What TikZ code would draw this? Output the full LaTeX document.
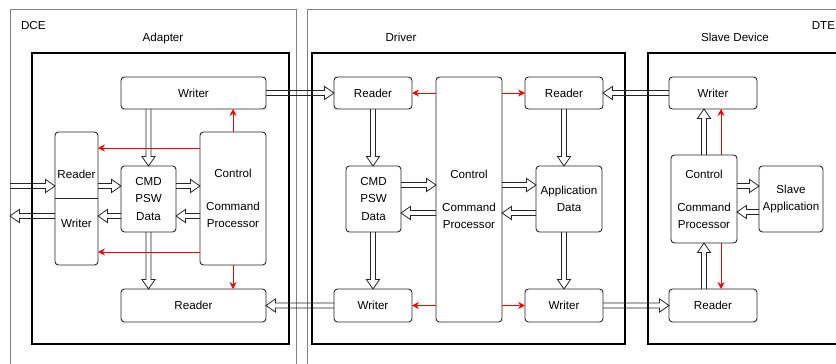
\documentclass[tikz,border=0pt]{standalone}
\usepackage{fontspec}
\setmainfont{Liberation Sans}
\usetikzlibrary{calc,arrows.meta}

\begin{document}
\begin{tikzpicture}[x=1pt,y=-1pt,
  every node/.style={font=\fontsize{11.6}{16.8}\selectfont, inner sep=0pt, outer sep=0pt},
  outerbox/.style={draw=black!50, line width=0.8pt, anchor=north west},
  frame/.style={draw=black, line width=1.7pt, anchor=north west},
  unit/.style={draw=black!85, line width=0.9pt, rounded corners=3.5pt, align=center},
  caption/.style={text height=8.5pt, text depth=2.5pt},
  ctrl/.style={draw=red, line width=0.9pt, -{Stealth[length=7pt,width=7pt,inset=2.5pt]}},
  hollow/.style={draw=black!85, line width=0.8pt, line join=miter, to path={
    let \p1=(\tikztostart), \p2=(\tikztotarget), \p3=($(\p2)!9.5pt!(\p1)$) in
    ($(\p1)!2.5pt!90:(\p2)$) -- ($(\p3)!2.5pt!90:(\p2)$) -- ($(\p3)!6.6pt!90:(\p2)$) -- (\p2)
    -- ($(\p3)!6.6pt!-90:(\p2)$) -- ($(\p3)!2.5pt!-90:(\p2)$) -- ($(\p1)!2.5pt!-90:(\p2)$)}}
]
\clip (0,0) rectangle (836,364);

% equipment domains
\node[outerbox, minimum width=286pt, minimum height=420pt] (dce) at (10,9) {};
\node[outerbox, minimum width=600pt, minimum height=420pt] (dte) at (307,9) {};
\node[caption, anchor=west] (dcelbl) at (21,26) {DCE};
\node[caption, anchor=east] (dtelbl) at (835,26) {DTE};

% software modules
\node[frame, minimum width=257pt, minimum height=291pt] (adapter) at (32,53) {};
\node[frame, minimum width=313pt, minimum height=291pt] (driver) at (312,53) {};
\node[frame, minimum width=300pt, minimum height=291pt] (slave) at (648,53) {};
\node[caption] (adlbl) at (163,38) {Adapter};
\node[caption] (drlbl) at (401,38) {Driver};
\node[caption] (sllbl) at (735,38) {Slave Device};

% adapter blocks
\node[unit, minimum width=145pt, minimum height=32pt] (wA) at (193.5,93) {Writer};
\node[unit, minimum width=43pt, minimum height=133pt] (rwA) at (76.5,198.5) {};
\draw[draw=black!85, line width=0.9pt] (rwA.west) -- (rwA.east);
\node[caption] (rwAr) at (76.5,175) {Reader};
\node[caption] (rwAw) at (76.5,224) {Writer};
\node[unit, minimum width=55pt, minimum height=66pt, font=\fontsize{11.6}{17.3}\selectfont] (cmdA) at (148.5,199) {CMD\\PSW\\Data};
\node[unit, minimum width=66pt, minimum height=133pt] (ctlA) at (233,198.5) {Control\\[16.5pt]Command\\Processor};
\node[unit, minimum width=145pt, minimum height=33pt] (rA) at (193.5,305.5) {Reader};

% driver blocks
\node[unit, minimum width=78pt, minimum height=32pt] (rD) at (373,93) {Reader};
\node[unit, minimum width=55pt, minimum height=66pt, font=\fontsize{11.6}{17.3}\selectfont] (cmdD) at (373.5,199) {CMD\\PSW\\Data};
\node[unit, minimum width=66pt, minimum height=245pt] (ctlD) at (469,199.5) {Control\\[16.5pt]Command\\Processor};
\node[unit, minimum width=78pt, minimum height=32pt] (rD2) at (564,93) {Reader};
\node[unit, minimum width=66pt, minimum height=66pt] (appD) at (569,199) {Application\\Data};
\node[unit, minimum width=78pt, minimum height=33pt] (wD) at (373,305.5) {Writer};
\node[unit, minimum width=78pt, minimum height=33pt] (wD2) at (564,305.5) {Writer};

% slave device blocks
\node[unit, minimum width=88pt, minimum height=32pt] (wS) at (713,93) {Writer};
\node[unit, minimum width=66pt, minimum height=88pt] (ctlS) at (704,199) {Control\\[16.5pt]Command\\Processor};
\node[unit, minimum width=64pt, minimum height=66pt] (appS) at (791,199) {Slave\\Application};
\node[unit, minimum width=88pt, minimum height=33pt] (rS) at (713,305.5) {Reader};

% levels of the side-by-side links
\coordinate (yA1) at (0,186);
\coordinate (yA2) at (0,216);
\coordinate (yAr1) at (0,148);
\coordinate (yAr2) at (0,252);
\coordinate (yD1) at (0,185);
\coordinate (yD2) at (0,213);
\coordinate (yS1) at (0,186);
\coordinate (yS2) at (0,212);
\coordinate (xS) at (721,0);
\coordinate (inA) at (10,186);
\coordinate (outA) at (10,216);

% data paths, adapter
\draw[hollow] (wA.south -| cmdA.north) to (cmdA.north);
\draw[hollow] (cmdA.south) to (rA.north -| cmdA.south);
\draw[hollow] (rwA.east |- yA1) to (cmdA.west |- yA1);
\draw[hollow] (cmdA.west |- yA2) to (rwA.east |- yA2);
\draw[hollow] (cmdA.east |- yA1) to (ctlA.west |- yA1);
\draw[hollow] (ctlA.west |- yA2) to (cmdA.east |- yA2);
\draw[hollow] (inA) to (rwA.west |- inA);
\draw[hollow] (rwA.west |- outA) to (outA);

% data paths between modules
\draw[hollow] (wA.east) to (rD.west);
\draw[hollow] (wD.west) to (rA.east);
\draw[hollow] (wS.west) to (rD2.east);
\draw[hollow] (wD2.east) to (rS.west);

% data paths, driver
\draw[hollow] (rD.south) to (cmdD.north -| rD.south);
\draw[hollow] (cmdD.south -| wD.north) to (wD.north);
\draw[hollow] (cmdD.east |- yD1) to (ctlD.west |- yD1);
\draw[hollow] (ctlD.west |- yD2) to (cmdD.east |- yD2);
\draw[hollow] (ctlD.east |- yD1) to (appD.west |- yD1);
\draw[hollow] (appD.west |- yD2) to (ctlD.east |- yD2);
\draw[hollow] (rD2.south) to (appD.north -| rD2.south);
\draw[hollow] (appD.south -| wD2.north) to (wD2.north);

% data paths, slave device
\draw[hollow] (ctlS.north) to (wS.south -| ctlS.north);
\draw[hollow] (rS.north -| ctlS.south) to (ctlS.south);
\draw[hollow] (ctlS.east |- yS1) to (appS.west |- yS1);
\draw[hollow] (appS.west |- yS2) to (ctlS.east |- yS2);

% control signals
\draw[ctrl] (ctlA.west |- yAr1) -- (rwA.east |- yAr1);
\draw[ctrl] (ctlA.west |- yAr2) -- (rwA.east |- yAr2);
\draw[ctrl] (ctlA.north) -- (wA.south -| ctlA.north);
\draw[ctrl] (ctlA.south) -- (rA.north -| ctlA.south);
\draw[ctrl] (ctlD.west |- rD.west) -- (rD.east);
\draw[ctrl] (ctlD.east |- rD2.west) -- (rD2.west);
\draw[ctrl] (ctlD.west |- wD.east) -- (wD.east);
\draw[ctrl] (ctlD.east |- wD2.west) -- (wD2.west);
\draw[ctrl] (ctlS.north -| xS) -- (wS.south -| xS);
\draw[ctrl] (ctlS.south -| xS) -- (rS.north -| xS);
\end{tikzpicture}
\end{document}
